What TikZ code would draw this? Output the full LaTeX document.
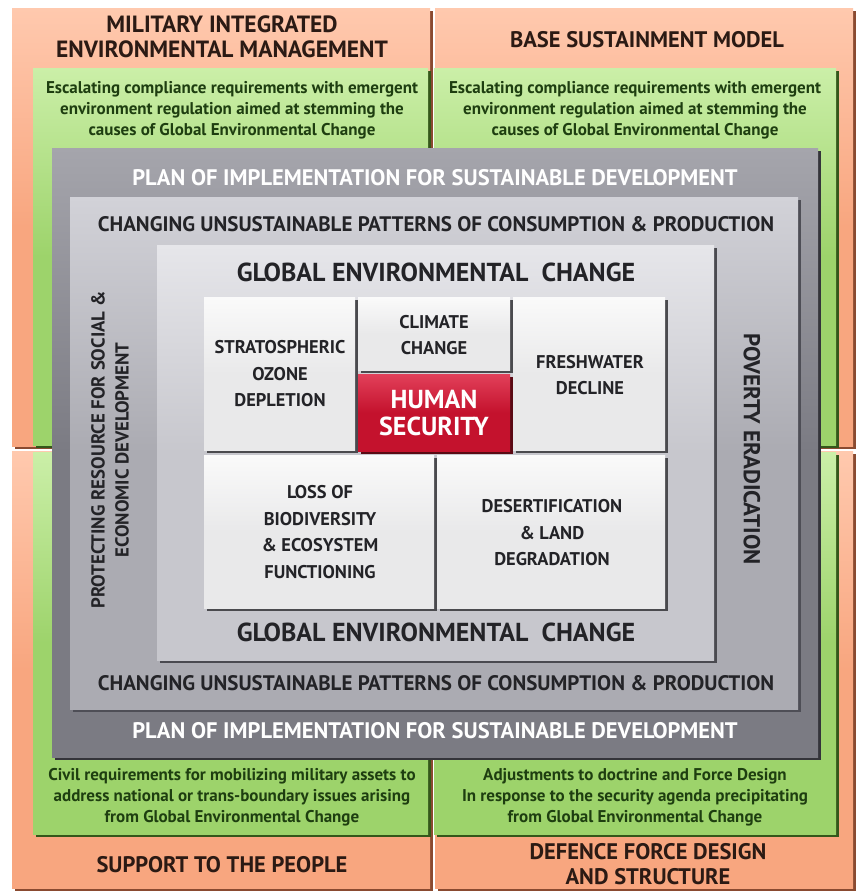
\documentclass[tikz,border=0pt]{standalone}
\usepackage{fontspec}
\setmainfont{PT Sans}
\definecolor{orangeF}{HTML}{F8A67F}
\definecolor{orangeS}{HTML}{8A4A30}
\definecolor{orangeH}{HTML}{FFC9AE}
\definecolor{greenF}{HTML}{9DD36B}
\definecolor{greenS}{HTML}{34571A}
\definecolor{greenH}{HTML}{CBEFA8}
\definecolor{dgreyF}{HTML}{7B7B83}
\definecolor{dgreyS}{HTML}{34343A}
\definecolor{dgreyH}{HTML}{A5A5AC}
\definecolor{mgreyF}{HTML}{ABABB2}
\definecolor{mgreyS}{HTML}{4E4E56}
\definecolor{mgreyH}{HTML}{D2D2D8}
\definecolor{lgreyF}{HTML}{C7C7CD}
\definecolor{lgreyS}{HTML}{4A4A50}
\definecolor{lgreyH}{HTML}{E6E6EA}
\definecolor{tileF}{HTML}{E9E9EA}
\definecolor{tileS}{HTML}{4A4A4E}
\definecolor{tileH}{HTML}{FAFAFA}
\definecolor{redF}{HTML}{C4122D}
\definecolor{redS}{HTML}{5A0A14}
\definecolor{redH}{HTML}{E2405A}
\definecolor{titleT}{HTML}{2B1A14}
\definecolor{greenT}{HTML}{1E3E10}
\definecolor{greyT}{HTML}{232327}
\newcommand\mypanel[5]{%
  \fill[#5S] ({#1+3},{#2+3}) rectangle ({#3+3},{#4+3});
  \shade[top color=#5H, bottom color=#5F, middle color=#5F] (#1,#2) rectangle (#3,#4);
}
\begin{document}
\begin{tikzpicture}[x=1pt,y=-1pt,
  ttl/.style={font=\bfseries\fontsize{22.5}{25}\selectfont, text=titleT, align=center, inner sep=0pt},
  grn/.style={font=\bfseries\fontsize{17}{21}\selectfont, text=greenT, align=center, inner sep=0pt},
  plan/.style={font=\bfseries\fontsize{22.5}{24}\selectfont, text=white, inner sep=0pt},
  chg/.style={font=\bfseries\fontsize{21}{24}\selectfont, text=greyT, inner sep=0pt},
  glob/.style={font=\bfseries\fontsize{26}{28}\selectfont, text=greyT, inner sep=0pt},
  side/.style={font=\bfseries\fontsize{18.8}{24}\selectfont, text=greyT, align=center, inner sep=0pt},
  tiletxt/.style={font=\bfseries\fontsize{18.4}{26.5}\selectfont, text=greyT, align=center, inner sep=0pt},
  hstxt/.style={font=\bfseries\fontsize{26}{27}\selectfont, text=white, align=center, inner sep=0pt}]
\useasboundingbox (0,0) rectangle (858,895);
\fill[white] (0,0) rectangle (858,895);
% orange quadrants
\mypanel{12}{8}{430}{446}{orange}
\mypanel{435}{8}{853}{446}{orange}
\mypanel{12}{451}{430}{888}{orange}
\mypanel{435}{451}{853}{888}{orange}
% green quadrants
\mypanel{33}{68}{428}{445}{green}
\mypanel{434}{68}{836}{445}{green}
\mypanel{33}{452}{428}{834}{green}
\mypanel{434}{452}{836}{834}{green}
% grey frames
\mypanel{52}{148}{818}{757}{dgrey}
\mypanel{70}{197}{798}{709}{mgrey}
\mypanel{157}{245}{714}{660}{lgrey}
% tiles
\mypanel{204}{297}{355}{450}{tile}
\mypanel{358}{297}{510}{370}{tile}
\mypanel{513}{297}{665}{450}{tile}
\mypanel{204}{455}{434}{608}{tile}
\mypanel{437}{455}{665}{608}{tile}
\mypanel{358}{374}{510}{451}{red}
% orange texts
\node[ttl, font=\bfseries\fontsize{23.5}{25}\selectfont] (mie) at (222,37) {MILITARY INTEGRATED\\ENVIRONMENTAL MANAGEMENT};
\node[ttl] (bsm) at (647,40) {BASE SUSTAINMENT MODEL};
\node[ttl] (stp) at (222,865) {SUPPORT TO THE PEOPLE};
\node[ttl] (dfd) at (648,864) {DEFENCE FORCE DESIGN\\AND STRUCTURE};
% green texts
\node[grn] (g1) at (232,110) {Escalating compliance requirements with emergent\\environment regulation aimed at stemming the\\causes of Global Environmental Change};
\node[grn] (g2) at (635,110) {Escalating compliance requirements with emergent\\environment regulation aimed at stemming the\\causes of Global Environmental Change};
\node[grn] (g3) at (232,797) {Civil requirements for mobilizing military assets to\\address national or trans-boundary issues arising\\from Global Environmental Change};
\node[grn] (g4) at (635,797) {Adjustments to doctrine and Force Design\\In response to the security agenda precipitating\\from Global Environmental Change};
% grey frame texts
\node[plan] (p1) at (435,178) {PLAN OF IMPLEMENTATION FOR SUSTAINABLE DEVELOPMENT};
\node[plan] (p2) at (435,731) {PLAN OF IMPLEMENTATION FOR SUSTAINABLE DEVELOPMENT};
\node[chg] (c1) at (436,224) {CHANGING UNSUSTAINABLE PATTERNS OF CONSUMPTION \& PRODUCTION};
\node[chg] (c2) at (436,683) {CHANGING UNSUSTAINABLE PATTERNS OF CONSUMPTION \& PRODUCTION};
\node[glob] (e1) at (436,272) {GLOBAL ENVIRONMENTAL\ \ CHANGE};
\node[glob] (e2) at (436,632) {GLOBAL ENVIRONMENTAL\ \ CHANGE};
\node[side, rotate=90] (prot) at (110,450) {PROTECTING RESOURCE FOR SOCIAL \&\\ECONOMIC DEVELOPMENT};
\node[side, rotate=-90, font=\bfseries\fontsize{23}{24}\selectfont] (pov) at (752,449) {POVERTY ERADICATION};
% tile texts
\node[tiletxt] (t1) at (280,374) {STRATOSPHERIC\\OZONE\\DEPLETION};
\node[tiletxt] (t2) at (434,335) {CLIMATE\\CHANGE};
\node[tiletxt] (t3) at (590,375) {FRESHWATER\\DECLINE};
\node[tiletxt] (t4) at (320,532) {LOSS OF\\BIODIVERSITY\\\& ECOSYSTEM\\FUNCTIONING};
\node[tiletxt] (t5) at (552,533) {DESERTIFICATION\\\& LAND\\DEGRADATION};
\node[hstxt] (hs) at (434,413) {HUMAN\\SECURITY};
\end{tikzpicture}
\end{document}
